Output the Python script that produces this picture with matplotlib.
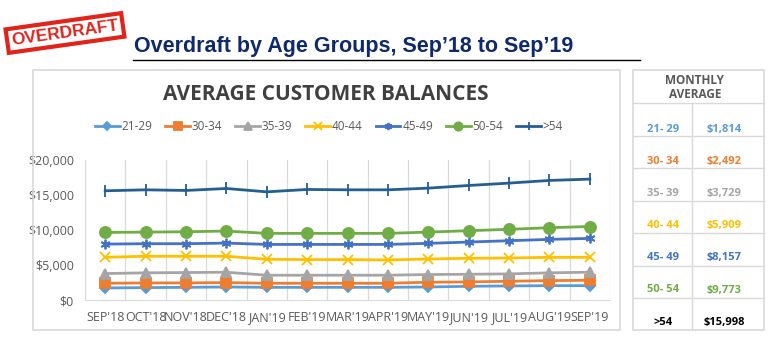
import matplotlib
matplotlib.use("Agg")
import matplotlib.pyplot as plt
from matplotlib.patches import Rectangle
from matplotlib.lines import Line2D

months = ["SEP'18", "OCT'18", "NOV'18", "DEC'18", "JAN'19", "FEB'19", "MAR'19",
          "APR'19", "MAY'19", "JUN'19", "JUL'19", "AUG'19", "SEP'19"]

groups = ["21-29", "30-34", "35-39", "40-44", "45-49", "50-54", ">54"]

bal_21_29 = [1720, 1770, 1810, 1860, 1810, 1810, 1810, 1810, 1860, 1960, 2010, 2050, 2050]
bal_30_34 = [2390, 2440, 2440, 2490, 2390, 2390, 2390, 2390, 2540, 2580, 2680, 2770, 2820]
bal_35_39 = [3780, 3880, 3920, 3970, 3540, 3540, 3540, 3540, 3640, 3680, 3730, 3880, 3970]
bal_40_44 = [6100, 6250, 6250, 6250, 5820, 5770, 5770, 5720, 5860, 5960, 6000, 6100, 6100]
bal_45_49 = [7990, 8040, 8040, 8130, 7940, 7940, 7940, 7940, 8090, 8280, 8470, 8660, 8800]
bal_50_54 = [9650, 9700, 9750, 9850, 9520, 9520, 9520, 9520, 9700, 9900, 10100, 10330, 10500]
bal_54up = [15600, 15740, 15650, 15930, 15450, 15790, 15740, 15740, 15980, 16360, 16700, 17080, 17270]

series = [bal_21_29, bal_30_34, bal_35_39, bal_40_44, bal_45_49, bal_50_54, bal_54up]

table_labels = ["21- 29", "30- 34", "35- 39", "40- 44", "45- 49", "50- 54", ">54"]
table_values = ["$1,814", "$2,492", "$3,729", "$5,909", "$8,157", "$9,773", "$15,998"]

colors = ["#5B9BD5", "#ED7D31", "#A5A5A5", "#FFC000", "#4472C4", "#70AD47", "#255E91"]
table_colors = ["#5B9BD5", "#ED7D31", "#A5A5A5", "#FFC000", "#4472C4", "#70AD47", "#000000"]
markers = ["D", "s", "^", "x", (6, 2, 0), "o", "|"]
msizes = [5, 7, 7, 7, 7, 8, 8]

W, H = 768, 338
fig = plt.figure(figsize=(W / 100, H / 100), dpi=100)


def px(x, y):
    return x / W, 1 - y / H


# stamp
fig.text(*px(65, 33), "OVERDRAFT", color="#E2231A", fontsize=12.5, fontweight="bold",
         family="Liberation Sans", rotation=8, ha="center", va="center",
         bbox=dict(boxstyle="square,pad=0.25", fc="white", ec="#E2231A", lw=3))

# main title + underline
fig.text(*px(134, 52), "Overdraft by Age Groups, Sep\u201918 to Sep\u201919", color="#0E2A6B",
         fontsize=15.5, fontweight="bold", family="Liberation Sans", ha="left", va="baseline")
fig.add_artist(Line2D([133 / W, 640 / W], [1 - 60 / H, 1 - 60 / H], color="black", lw=1))

# boxes
fig.add_artist(Rectangle(px(33, 330), 587 / W, 260 / H, fill=False, ec="#D9D9D9", lw=1.2))
fig.add_artist(Rectangle(px(633, 330), 131 / W, 260 / H, fill=False, ec="#D9D9D9", lw=1.2))

# chart
ax = fig.add_axes([85 / W, 1 - 300 / H, 525 / W, 140 / H])
x = list(range(len(months)))
for vals, name, c, m, ms in zip(series, groups, colors, markers, msizes):
    ax.plot(x, vals, color=c, lw=2, marker=m, markersize=ms, label=name,
            markeredgecolor=c, markerfacecolor=c, markeredgewidth=1.3)

ax.set_xlim(-0.5, len(months) - 0.5)
ax.set_ylim(0, 20000)
ax.set_yticks([0, 5000, 10000, 15000, 20000])
ax.set_yticklabels(["$0", "$5,000", "$10,000", "$15,000", "$20,000"])
ax.set_xticks(x)
ax.set_xticklabels(months)
for b in [i - 0.5 for i in range(len(months) + 1)]:
    ax.axvline(b, color="#D9D9D9", lw=0.9, zorder=0)
for s in ax.spines.values():
    s.set_visible(False)
ax.spines["bottom"].set_visible(True)
ax.spines["bottom"].set_color("#D9D9D9")
ax.tick_params(length=0, colors="#595959")
ax.tick_params(axis="y", labelsize=9, pad=8)
ax.tick_params(axis="x", labelsize=9, pad=8)
for t in ax.get_yticklabels() + ax.get_xticklabels():
    t.set_family("Open Sans")

fig.text(*px(326, 95), "AVERAGE CUSTOMER BALANCES", color="#404040", fontsize=15,
         fontweight="bold", family="Open Sans", ha="center", va="center")

leg = ax.legend(loc="center", bbox_to_anchor=(329 / W, 1 - 127 / H),
                bbox_transform=fig.transFigure, ncol=7, frameon=False,
                handlelength=2.1, columnspacing=1.1, handletextpad=0.15,
                prop={"family": "Open Sans", "size": 8.5}, labelcolor="#595959",
                markerscale=0.75)

# table
fig.text(*px(695, 80), "MONTHLY", color="#595959", fontsize=8.5, fontweight="bold",
         family="Open Sans", ha="center", va="center")
fig.text(*px(695, 95), "AVERAGE", color="#595959", fontsize=8.5, fontweight="bold",
         family="Open Sans", ha="center", va="center")
row_lines = [103, 136, 168, 201, 233, 266, 298]
for yl in row_lines:
    fig.add_artist(Line2D([633 / W, 764 / W], [1 - yl / H] * 2, color="#D9D9D9", lw=1))
fig.add_artist(Line2D([692 / W] * 2, [1 - 103 / H, 1 - 330 / H], color="#D9D9D9", lw=1))
for i, (lab, val, c) in enumerate(zip(table_labels, table_values, table_colors)):
    y = 129 + i * 32.2
    fig.text(*px(663, y), lab, color=c, fontsize=8, fontweight="bold", family="Open Sans",
             ha="center", va="center")
    fig.text(*px(724, y), val, color=c, fontsize=8, fontweight="bold", family="Open Sans",
             ha="center", va="center")

fig.savefig("out.png", dpi=100)
